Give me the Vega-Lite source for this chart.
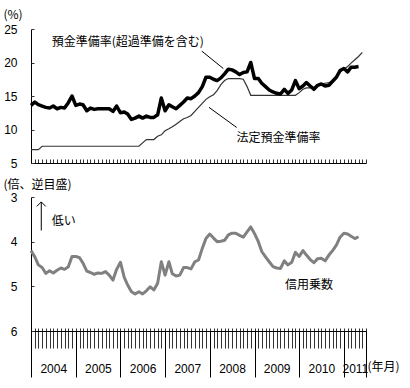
{
 "$schema": "https://vega.github.io/schema/vega-lite/v6.json",
 "background": "white",
 "padding": {"left": 3, "top": 8, "right": 0, "bottom": 0},
 "bounds": "flush",
 "spacing": 34,
 "config": {
  "font": "Noto Sans CJK JP",
  "view": {"stroke": null},
  "axis": {"grid": false, "domainColor": "#000", "tickColor": "#333", "labelColor": "#000", "titleColor": "#000", "labelFont": "Liberation Sans", "labelFontSize": 12, "labelOverlap": false, "titleFont": "Noto Sans CJK JP", "titleFontSize": 12, "titleFontWeight": "normal"},
  "text": {"font": "Noto Sans CJK JP", "fontSize": 12, "color": "#000"}
 },
 "datasets": {
  "d": [
   {"date":"2004-01-01","dep":13.6,"legal":7.0,"cm":4.20},
   {"date":"2004-02-01","dep":14.1,"legal":7.0,"cm":4.34},
   {"date":"2004-03-01","dep":13.7,"legal":7.0,"cm":4.52},
   {"date":"2004-04-01","dep":13.5,"legal":7.5,"cm":4.58},
   {"date":"2004-05-01","dep":13.3,"legal":7.5,"cm":4.71},
   {"date":"2004-06-01","dep":13.2,"legal":7.5,"cm":4.65},
   {"date":"2004-07-01","dep":13.5,"legal":7.5,"cm":4.70},
   {"date":"2004-08-01","dep":13.1,"legal":7.5,"cm":4.64},
   {"date":"2004-09-01","dep":13.3,"legal":7.5,"cm":4.59},
   {"date":"2004-10-01","dep":13.2,"legal":7.5,"cm":4.62},
   {"date":"2004-11-01","dep":14.0,"legal":7.5,"cm":4.56},
   {"date":"2004-12-01","dep":15.0,"legal":7.5,"cm":4.33},
   {"date":"2005-01-01","dep":13.6,"legal":7.5,"cm":4.33},
   {"date":"2005-02-01","dep":13.8,"legal":7.5,"cm":4.36},
   {"date":"2005-03-01","dep":13.7,"legal":7.5,"cm":4.48},
   {"date":"2005-04-01","dep":12.8,"legal":7.5,"cm":4.66},
   {"date":"2005-05-01","dep":13.2,"legal":7.5,"cm":4.69},
   {"date":"2005-06-01","dep":13.0,"legal":7.5,"cm":4.73},
   {"date":"2005-07-01","dep":13.1,"legal":7.5,"cm":4.70},
   {"date":"2005-08-01","dep":13.1,"legal":7.5,"cm":4.71},
   {"date":"2005-09-01","dep":13.1,"legal":7.5,"cm":4.67},
   {"date":"2005-10-01","dep":13.1,"legal":7.5,"cm":4.75},
   {"date":"2005-11-01","dep":12.7,"legal":7.5,"cm":4.86},
   {"date":"2005-12-01","dep":13.5,"legal":7.5,"cm":4.62},
   {"date":"2006-01-01","dep":12.5,"legal":7.5,"cm":4.46},
   {"date":"2006-02-01","dep":12.6,"legal":7.5,"cm":4.80},
   {"date":"2006-03-01","dep":12.3,"legal":7.5,"cm":4.97},
   {"date":"2006-04-01","dep":11.5,"legal":7.5,"cm":5.12},
   {"date":"2006-05-01","dep":11.7,"legal":7.5,"cm":5.17},
   {"date":"2006-06-01","dep":12.0,"legal":7.5,"cm":5.12},
   {"date":"2006-07-01","dep":11.7,"legal":8.0,"cm":5.17},
   {"date":"2006-08-01","dep":12.0,"legal":8.5,"cm":5.10},
   {"date":"2006-09-01","dep":11.8,"legal":8.5,"cm":5.01},
   {"date":"2006-10-01","dep":11.8,"legal":8.5,"cm":5.08},
   {"date":"2006-11-01","dep":12.2,"legal":9.0,"cm":4.93},
   {"date":"2006-12-01","dep":14.7,"legal":9.2,"cm":4.45},
   {"date":"2007-01-01","dep":12.8,"legal":9.8,"cm":4.75},
   {"date":"2007-02-01","dep":13.7,"legal":10.1,"cm":4.45},
   {"date":"2007-03-01","dep":13.4,"legal":10.4,"cm":4.72},
   {"date":"2007-04-01","dep":13.1,"legal":10.8,"cm":4.77},
   {"date":"2007-05-01","dep":13.6,"legal":11.2,"cm":4.75},
   {"date":"2007-06-01","dep":14.1,"legal":11.6,"cm":4.58},
   {"date":"2007-07-01","dep":14.7,"legal":11.8,"cm":4.58},
   {"date":"2007-08-01","dep":14.6,"legal":12.1,"cm":4.61},
   {"date":"2007-09-01","dep":15.0,"legal":12.7,"cm":4.45},
   {"date":"2007-10-01","dep":15.5,"legal":13.3,"cm":4.41},
   {"date":"2007-11-01","dep":16.4,"legal":13.9,"cm":4.15},
   {"date":"2007-12-01","dep":17.8,"legal":14.5,"cm":3.93},
   {"date":"2008-01-01","dep":17.8,"legal":14.9,"cm":3.83},
   {"date":"2008-02-01","dep":17.5,"legal":15.2,"cm":3.92},
   {"date":"2008-03-01","dep":17.3,"legal":15.8,"cm":4.00},
   {"date":"2008-04-01","dep":17.7,"legal":16.7,"cm":3.99},
   {"date":"2008-05-01","dep":18.3,"legal":17.3,"cm":3.97},
   {"date":"2008-06-01","dep":19.0,"legal":17.6,"cm":3.85},
   {"date":"2008-07-01","dep":18.9,"legal":17.6,"cm":3.81},
   {"date":"2008-08-01","dep":18.6,"legal":17.6,"cm":3.81},
   {"date":"2008-09-01","dep":18.2,"legal":17.6,"cm":3.86},
   {"date":"2008-10-01","dep":18.5,"legal":17.5,"cm":3.90},
   {"date":"2008-11-01","dep":18.6,"legal":16.4,"cm":3.78},
   {"date":"2008-12-01","dep":20.0,"legal":15.1,"cm":3.67},
   {"date":"2009-01-01","dep":17.6,"legal":15.1,"cm":3.82},
   {"date":"2009-02-01","dep":17.6,"legal":15.1,"cm":4.00},
   {"date":"2009-03-01","dep":16.9,"legal":15.1,"cm":4.22},
   {"date":"2009-04-01","dep":16.4,"legal":15.1,"cm":4.34},
   {"date":"2009-05-01","dep":15.9,"legal":15.1,"cm":4.45},
   {"date":"2009-06-01","dep":15.6,"legal":15.1,"cm":4.56},
   {"date":"2009-07-01","dep":15.4,"legal":15.1,"cm":4.59},
   {"date":"2009-08-01","dep":15.3,"legal":15.1,"cm":4.60},
   {"date":"2009-09-01","dep":16.0,"legal":15.1,"cm":4.43},
   {"date":"2009-10-01","dep":15.4,"legal":15.1,"cm":4.52},
   {"date":"2009-11-01","dep":15.9,"legal":15.1,"cm":4.46},
   {"date":"2009-12-01","dep":17.3,"legal":15.1,"cm":4.24},
   {"date":"2010-01-01","dep":16.1,"legal":15.5,"cm":4.33},
   {"date":"2010-02-01","dep":16.5,"legal":16.0,"cm":4.20},
   {"date":"2010-03-01","dep":17.0,"legal":16.2,"cm":4.30},
   {"date":"2010-04-01","dep":16.5,"legal":16.2,"cm":4.40},
   {"date":"2010-05-01","dep":16.0,"legal":16.3,"cm":4.47},
   {"date":"2010-06-01","dep":16.6,"legal":16.6,"cm":4.38},
   {"date":"2010-07-01","dep":16.8,"legal":16.8,"cm":4.37},
   {"date":"2010-08-01","dep":16.5,"legal":16.9,"cm":4.43},
   {"date":"2010-09-01","dep":16.6,"legal":17.0,"cm":4.30},
   {"date":"2010-10-01","dep":17.2,"legal":17.2,"cm":4.20},
   {"date":"2010-11-01","dep":17.8,"legal":18.0,"cm":4.08},
   {"date":"2010-12-01","dep":18.8,"legal":18.6,"cm":3.90},
   {"date":"2011-01-01","dep":19.1,"legal":19.0,"cm":3.81},
   {"date":"2011-02-01","dep":18.6,"legal":19.4,"cm":3.83},
   {"date":"2011-03-01","dep":19.3,"legal":19.9,"cm":3.88},
   {"date":"2011-04-01","dep":19.3,"legal":20.4,"cm":3.93},
   {"date":"2011-05-01","dep":19.4,"legal":20.9,"cm":3.89},
   {"date":"2011-06-01","dep":null,"legal":21.5,"cm":null}
  ]
 },
 "vconcat": [
  {
   "width": 335,
   "height": 134,
   "resolve": {"axis": {"x": "independent", "y": "independent"}},
   "layer": [
    {
     "data": {"name": "d"},
     "mark": {"type": "line", "stroke": "#333", "strokeWidth": 1.2},
     "encoding": {
      "x": {"field": "date", "type": "temporal",
            "scale": {"type": "utc", "nice": false, "domain": [{"year": 2004, "month": 1, "date": 1, "utc": true}, {"year": 2011, "month": 7, "date": 1, "utc": true}]},
            "axis": {"orient": "bottom", "title": null, "labels": false, "domain": false, "tickSize": 4, "offset": -4, "tickCount": {"interval": "month", "step": 1}}},
      "y": {"field": "legal", "type": "quantitative",
            "scale": {"domain": [5, 25], "nice": false, "zero": false},
            "axis": {"orient": "left", "values": [5, 10, 15, 20, 25], "ticks": false, "tickSize": 0, "labelPadding": 14, "title": "(%)", "titleAngle": 0, "titleAlign": "left", "titleBaseline": "middle", "titleX": -28, "titleY": -15}}
     }
    },
    {
     "data": {"name": "d"},
     "mark": {"type": "line", "stroke": "#000", "strokeWidth": 3.5, "strokeJoin": "round"},
     "encoding": {
      "x": {"field": "date", "type": "temporal",
            "axis": {"orient": "bottom", "title": null, "labels": false, "ticks": false, "domain": true}},
      "y": {"field": "dep", "type": "quantitative",
            "axis": {"orient": "left", "title": null, "labels": false, "domain": false, "tickSize": 3, "offset": -3, "values": [5, 10, 15, 20, 25]}}
     }
    },
    {
     "data": {"values": [
      {"label": "預金準備率(超過準備を含む)", "date": "2004-06-19", "v": 23.0},
      {"label": "法定預金準備率", "date": "2008-08-06", "v": 8.8}
     ]},
     "mark": {"type": "text", "align": "left", "baseline": "middle"},
     "encoding": {
      "x": {"field": "date", "type": "temporal", "axis": null},
      "y": {"field": "v", "type": "quantitative", "axis": null},
      "text": {"field": "label"}
     }
    },
    {
     "data": {"values": [
      {"date": "2007-10-28", "date2": "2008-04-21", "v": 21.7, "v2": 19.1},
      {"date": "2007-12-26", "date2": "2008-08-08", "v": 13.3, "v2": 10.3}
     ]},
     "mark": {"type": "rule", "stroke": "#000", "strokeWidth": 1},
     "encoding": {
      "x": {"field": "date", "type": "temporal", "axis": null},
      "x2": {"field": "date2"},
      "y": {"field": "v", "type": "quantitative", "axis": null},
      "y2": {"field": "v2"}
     }
    }
   ]
  },
  {
   "width": 335,
   "height": 134,
   "resolve": {"axis": {"x": "independent", "y": "independent"}},
   "layer": [
    {
     "data": {"name": "d"},
     "mark": {"type": "line", "stroke": "#808080", "strokeWidth": 3, "strokeJoin": "round"},
     "encoding": {
      "x": {"field": "date", "type": "temporal",
            "scale": {"type": "utc", "nice": false, "domain": [{"year": 2004, "month": 1, "date": 1, "utc": true}, {"year": 2011, "month": 7, "date": 1, "utc": true}]},
            "axis": {"orient": "bottom", "title": null, "labels": false, "domain": false, "tickSize": 20, "offset": -3, "tickCount": {"interval": "month", "step": 1}}},
      "y": {"field": "cm", "type": "quantitative",
            "scale": {"domain": [3, 6], "reverse": true, "nice": false, "zero": false},
            "axis": {"orient": "left", "values": [3, 4, 5, 6], "ticks": false, "tickSize": 0, "labelPadding": 14, "title": "(倍、逆目盛)", "titleAngle": 0, "titleAlign": "left", "titleBaseline": "middle", "titleX": -28, "titleY": -13}}
     }
    },
    {
     "data": {"values": [{"label": "信用乗数", "date": "2010-03-22", "v": 4.97}]},
     "mark": {"type": "text", "align": "center", "baseline": "middle"},
     "encoding": {
      "x": {"field": "date", "type": "temporal",
            "axis": {"orient": "bottom", "title": null, "labels": false, "domain": false, "tickSize": 46, "tickColor": "#000",
                     "values": [{"year": 2004, "month": 1, "date": 1, "utc": true}, {"year": 2005, "month": 1, "date": 1, "utc": true}, {"year": 2006, "month": 1, "date": 1, "utc": true}, {"year": 2007, "month": 1, "date": 1, "utc": true}, {"year": 2008, "month": 1, "date": 1, "utc": true}, {"year": 2009, "month": 1, "date": 1, "utc": true}, {"year": 2010, "month": 1, "date": 1, "utc": true}, {"year": 2011, "month": 1, "date": 1, "utc": true}, {"year": 2011, "month": 7, "date": 1, "utc": true}]}},
      "y": {"field": "v", "type": "quantitative",
            "axis": {"orient": "left", "title": null, "labels": false, "domain": false, "tickSize": 3, "offset": -3, "values": [3, 4, 5, 6]}},
      "text": {"field": "label"}
     }
    },
    {
     "data": {"values": [{"label": "低い", "date": "2004-06-19", "v": 3.53}]},
     "mark": {"type": "text", "align": "left", "baseline": "middle"},
     "encoding": {
      "x": {"field": "date", "type": "temporal",
            "axis": {"orient": "bottom", "ticks": false, "tickSize": 0, "domain": true, "labelPadding": 37, "labelBaseline": "middle", "labelAlign": "center",
                     "labelExpr": "utcFormat(datum.value, '%Y')",
                     "values": [{"year": 2004, "month": 7, "date": 1, "utc": true}, {"year": 2005, "month": 7, "date": 1, "utc": true}, {"year": 2006, "month": 7, "date": 1, "utc": true}, {"year": 2007, "month": 7, "date": 1, "utc": true}, {"year": 2008, "month": 7, "date": 1, "utc": true}, {"year": 2009, "month": 7, "date": 1, "utc": true}, {"year": 2010, "month": 7, "date": 1, "utc": true}, {"year": 2011, "month": 4, "date": 1, "utc": true}],
                     "title": "(年月)", "titleAngle": 0, "titleAlign": "left", "titleBaseline": "middle", "titleX": 336, "titleY": 35}},
      "y": {"field": "v", "type": "quantitative", "axis": null},
      "text": {"field": "label"}
     }
    },
    {
     "data": {"values": [{"date": "2004-03-25", "v1": 3.75, "v2": 3.11}]},
     "mark": {"type": "rule", "stroke": "#000", "strokeWidth": 1},
     "encoding": {
      "x": {"field": "date", "type": "temporal", "axis": null},
      "y": {"field": "v1", "type": "quantitative", "axis": null},
      "y2": {"field": "v2"}
     }
    },
    {
     "data": {"values": [{"date": "2004-03-25", "v1": 3.75, "v2": 3.11}]},
     "mark": {"type": "point", "shape": "M-1,1L0,0L1,1", "size": 81, "filled": false, "stroke": "#000", "strokeWidth": 1, "opacity": 1},
     "encoding": {
      "x": {"field": "date", "type": "temporal", "axis": null},
      "y": {"field": "v2", "type": "quantitative", "axis": null}
     }
    }
   ]
  }
 ]
}
